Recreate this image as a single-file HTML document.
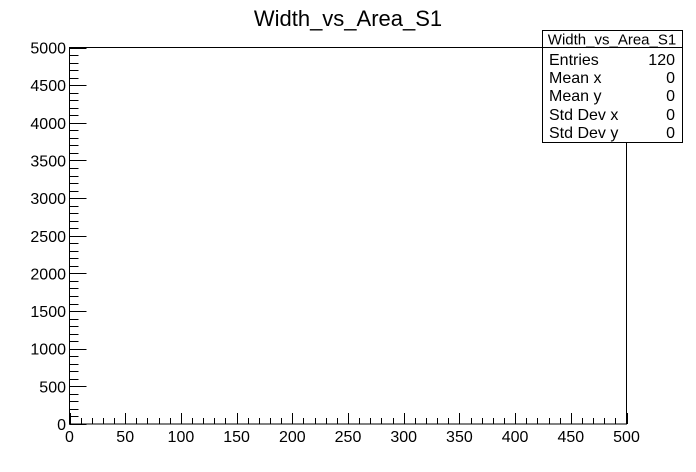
<!DOCTYPE html>
<html><head><meta charset="utf-8"><style>
body{margin:0;background:#fff;}
svg{display:block;font-family:"Liberation Sans",Arial,sans-serif;}
</style></head><body>
<svg id="c" width="696" height="472">
<rect width="696" height="472" fill="#fff"/>
<text x="348" y="26" font-size="22" text-anchor="middle">Width_vs_Area_S1</text>
<rect x="69.5" y="47.5" width="557" height="376.5" fill="none" stroke="#000"/>
<g id="ax"></g>
<g>
<rect x="542.5" y="30.5" width="140" height="112" fill="#fff" stroke="#000"/>
<line x1="542.5" y1="47.5" x2="682.5" y2="47.5" stroke="#000"/>
<text x="612" y="44.5" font-size="15" text-anchor="middle">Width_vs_Area_S1</text>
<g font-size="16">
<text x="549" y="65">Entries</text><text x="675" y="65" text-anchor="end">120</text>
<text x="549" y="83">Mean x</text><text x="675" y="83" text-anchor="end">0</text>
<text x="549" y="101">Mean y</text><text x="675" y="101" text-anchor="end">0</text>
<text x="549" y="120">Std Dev x</text><text x="675" y="120" text-anchor="end">0</text>
<text x="549" y="138">Std Dev y</text><text x="675" y="138" text-anchor="end">0</text>
</g></g>
</svg>
<script>
const xTicks=[0,50,100,150,200,250,300,350,400,450,500];
const yTicks=[0,500,1000,1500,2000,2500,3000,3500,4000,4500,5000];
const X0=69.5,X1=626.5,Y0=424,Y1=47.5;
const xs=v=>X0+(v-0)/(500-0)*(X1-X0);
const ys=v=>Y0-(v-0)/(5000-0)*(Y0-Y1);
const ax=document.getElementById('ax');
const NS='http://www.w3.org/2000/svg';
function ln(a,b,c,d){const l=document.createElementNS(NS,'line');l.setAttribute('x1',a);l.setAttribute('y1',b);l.setAttribute('x2',c);l.setAttribute('y2',d);l.setAttribute('stroke','#000');ax.appendChild(l);return l;}
function tx(x,y,s,anc){const t=document.createElementNS(NS,'text');t.setAttribute('x',x);t.setAttribute('y',y);t.setAttribute('font-size','16');t.setAttribute('text-anchor',anc);t.textContent=s;ax.appendChild(t);return t;}
for(let i=0;i<=50;i++){const v=i*10;const x=Math.round(xs(v))+0.5;const maj=i%5==0;
 const l=ln(x,Y0,x,Y0-(maj?11:6));
 
 }
for(let i=0;i<=50;i++){const v=i*100;const y=Math.round(ys(v))+0.5;const maj=i%5==0;
 const l=ln(X0,y,X0+(maj?17:9),y);
 
 }
xTicks.forEach(v=>{const t=tx(xs(v),442,String(v),'middle');
 
 });
yTicks.forEach(v=>{const t=tx(66,ys(v)+6,String(v),'end');
 
 });
</script>
</body></html>
